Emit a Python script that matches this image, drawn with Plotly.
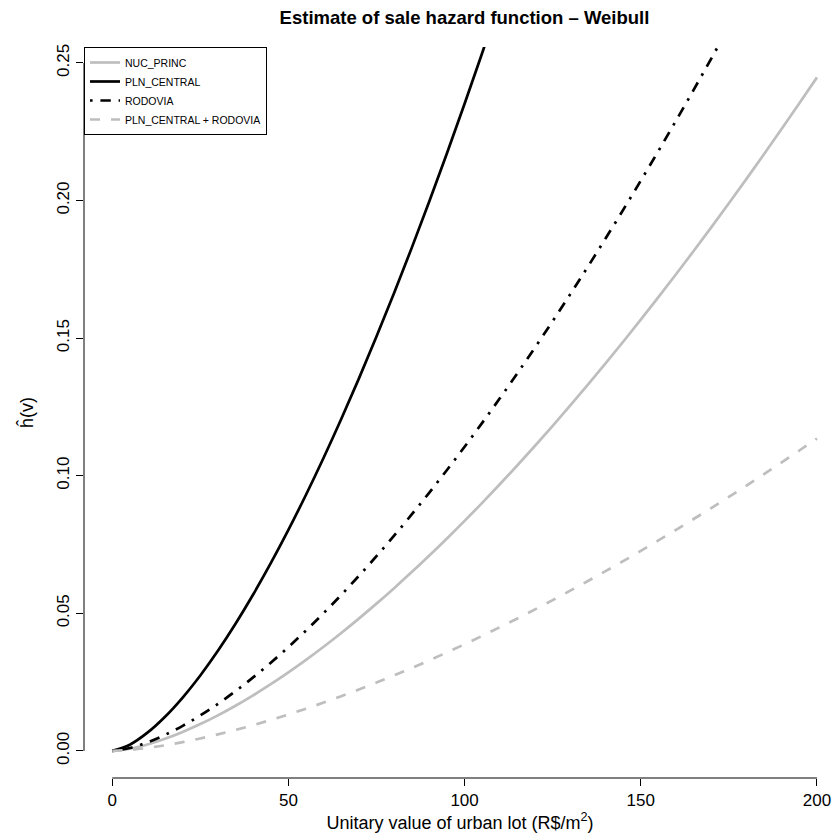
import plotly.graph_objects as go

# ---- data ----
v = [0, 5, 10, 15, 20, 25, 30, 35, 40, 45, 50, 55, 60, 65, 70, 75, 80, 85, 90, 95,
     100, 105, 110, 115, 120, 125, 130, 135, 140, 145, 150, 155, 160, 165, 170, 175,
     180, 185, 190, 195, 200]

nuc_princ = [0.0, 0.00080, 0.00236, 0.00442, 0.00690, 0.00975, 0.01293, 0.01642,
             0.02020, 0.02425, 0.02855, 0.03309, 0.03787, 0.04287, 0.04809, 0.05352,
             0.05915, 0.06498, 0.07100, 0.07721, 0.08359, 0.09016, 0.09690, 0.10381,
             0.11089, 0.11813, 0.12554, 0.13311, 0.14082, 0.14869, 0.15672, 0.16488,
             0.17320, 0.18166, 0.19027, 0.19901, 0.20788, 0.21692, 0.22607, 0.23535,
             0.24476]
pln_central = [0.0, 0.00226, 0.00663, 0.01243, 0.01941, 0.02743, 0.03639, 0.04621,
               0.05683, 0.06821, 0.08031, 0.09310, 0.10654, 0.12061, 0.13529, 0.15056,
               0.16641, 0.18280, 0.19974, 0.21721, 0.23516, 0.25364, 0.27259, 0.29204,
               0.31196, 0.33234, 0.35316, 0.37446, 0.39617, 0.41830, 0.44089, 0.46386,
               0.48725, 0.51107, 0.53527, 0.55988, 0.58481, 0.61024, 0.63598, 0.66211,
               0.68859]
rodovia = [0.0, 0.00106, 0.00312, 0.00584, 0.00912, 0.01289, 0.01710, 0.02172,
           0.02671, 0.03206, 0.03775, 0.04376, 0.05008, 0.05669, 0.06359, 0.07077,
           0.07821, 0.08592, 0.09388, 0.10209, 0.11053, 0.11921, 0.12813, 0.13727,
           0.14663, 0.15621, 0.16600, 0.17600, 0.18621, 0.19661, 0.20723, 0.21802,
           0.22902, 0.24021, 0.25159, 0.26315, 0.27488, 0.28683, 0.29892, 0.31121,
           0.32365]
pln_rod = [0.0, 0.00037, 0.00109, 0.00205, 0.00320, 0.00452, 0.00600, 0.00762,
           0.00937, 0.01125, 0.01324, 0.01535, 0.01757, 0.01989, 0.02231, 0.02483,
           0.02744, 0.03014, 0.03293, 0.03581, 0.03877, 0.04182, 0.04495, 0.04815,
           0.05144, 0.05480, 0.05823, 0.06174, 0.06532, 0.06897, 0.07269, 0.07648,
           0.08034, 0.08427, 0.08826, 0.09231, 0.09642, 0.10062, 0.10486, 0.10917,
           0.11353]

series_names = ["NUC_PRINC", "PLN_CENTRAL", "RODOVIA", "PLN_CENTRAL + RODOVIA"]
x_ticks = [0, 50, 100, 150, 200]
y_ticks = [0.00, 0.05, 0.10, 0.15, 0.20, 0.25]
y_tick_labels = ["0.00", "0.05", "0.10", "0.15", "0.20", "0.25"]

# ---- styles ----
GREY = "#BEBEBE"
FONT = "Liberation Sans, Arial, Helvetica, sans-serif"
styles = [
    dict(color=GREY, width=2.7, dash="solid"),
    dict(color="black", width=2.7, dash="solid"),
    dict(color="black", width=2.7, dash="2.6px,7.8px,10.4px,7.8px"),
    dict(color=GREY, width=2.7, dash="10px,11px"),
]

fig = go.Figure()
for name, ys, st in zip(series_names, [nuc_princ, pln_central, rodovia, pln_rod], styles):
    fig.add_trace(go.Scatter(x=v, y=ys, mode="lines", name=name,
                             line=dict(shape="spline", smoothing=1.0, **st)))

# R-style axis lines spanning from first to last tick
fig.add_shape(type="line", xref="x", yref="paper", x0=min(x_ticks), x1=max(x_ticks),
              y0=0, y1=0, line=dict(color="black", width=1))
fig.add_shape(type="line", xref="paper", yref="y", x0=0, x1=0,
              y0=min(y_ticks), y1=max(y_ticks), line=dict(color="black", width=1))

fig.update_layout(
    width=836, height=834,
    margin=dict(l=84, r=0, t=47, b=56),
    paper_bgcolor="white", plot_bgcolor="white",
    font=dict(family=FONT, color="black", size=17),
    title=dict(text="<b>Estimate of sale hazard function \u2013 Weibull</b>",
               x=0.5556, xref="container", xanchor="center",
               y=1 - 18 / 834, yref="container", yanchor="middle",
               font=dict(size=18.5, family=FONT, color="black")),
    showlegend=True,
    legend=dict(x=0, y=1, xanchor="left", yanchor="top",
                bordercolor="black", borderwidth=1, bgcolor="white",
                font=dict(size=10.5, family=FONT), tracegroupgap=0,
                itemwidth=30),
    xaxis=dict(range=[-8, 205.4], showgrid=False, zeroline=False, showline=False,
               tickmode="array", tickvals=x_ticks, ticktext=[str(t) for t in x_ticks],
               ticks="outside", ticklen=7, tickcolor="black", tickwidth=1,
               tickfont=dict(size=17),
               title=dict(text="Unitary value of urban lot (R$/m<sup>2</sup>)",
                          font=dict(size=18), standoff=6)),
    yaxis=dict(range=[-0.00984, 0.2558], showgrid=False, zeroline=False, showline=False,
               tickmode="array", tickvals=y_ticks, ticktext=y_tick_labels,
               ticks="outside", ticklen=7, tickcolor="black", tickwidth=1,
               tickangle=-90, tickfont=dict(size=17),
               title=dict(text="\u0125(v)", font=dict(size=18), standoff=15)),
)

fig.write_html("out.html")
